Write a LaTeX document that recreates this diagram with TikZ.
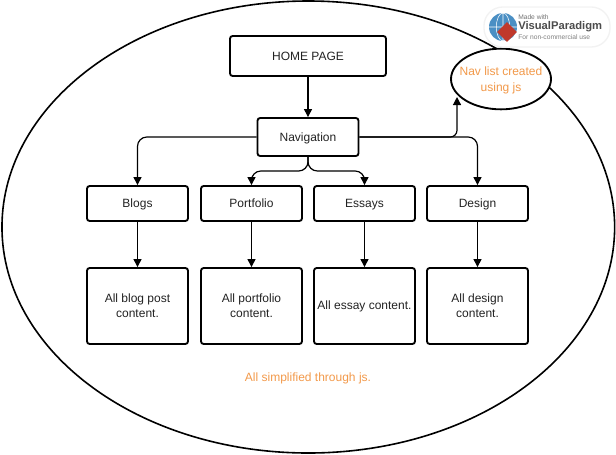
\documentclass[tikz,border=0pt]{standalone}
\usepackage{fontspec}
\setmainfont{Liberation Sans}
\usetikzlibrary{shapes.geometric,arrows.meta}
\definecolor{navorange}{HTML}{F2994A}
\definecolor{textgrey}{HTML}{222222}
\definecolor{globeblue}{HTML}{4A8FC4}
\definecolor{markred}{HTML}{C0392B}
\begin{document}
\begin{tikzpicture}
[x=0.75pt,y=-0.75pt,>={Triangle[width=6pt,length=6pt]},
 box/.style={draw,line width=1.4pt,rounded corners=2pt,minimum height=26.25pt,minimum width=75.75pt,inner sep=1pt,align=center,font=\fontsize{9}{11.25}\selectfont,text=textgrey},
 title/.style={box,text height=6.5pt,text depth=0pt},
 content/.style={box,minimum height=57pt},
 link/.style={->,line width=0.9pt,rounded corners=7pt},
 note/.style={text=navorange,align=center,font=\fontsize{9}{12}\selectfont}]
\useasboundingbox (0,0) rectangle (616,454);

% the outer ellipse
\node[draw,ellipse,line width=1.2pt,minimum width=459.5pt,minimum height=339pt,inner sep=0pt] (outer) at (308.3,227) {};

% the boxes
\node[title,minimum width=117pt,minimum height=30pt] (home) at (308,56) {HOME PAGE};
\node[title,minimum height=28.5pt] (nav) at (308,137) {Navigation};
\node[title] (blogs) at (137.5,203.5) {Blogs};
\node[title] (portfolio) at (251.5,203.5) {Portfolio};
\node[title] (essays) at (364.5,203.5) {Essays};
\node[title] (design) at (477.5,203.5) {Design};
\node[content] (blogtext) at (137.5,306) {All blog post\\content.};
\node[content] (portfoliotext) at (251.5,306) {All portfolio\\content.};
\node[content] (essaytext) at (364.5,306) {All essay content.};
\node[content] (designtext) at (477.5,306) {All design\\content.};

% the small ellipse
\node[draw,ellipse,fill=white,line width=1.4pt,minimum width=75pt,minimum height=45.5pt,inner sep=-8pt,note] (navlist) at (501,79) {\rule{0pt}{9pt}Nav list created\\using js};
\node[note] (simple) at (308,378) {All simplified through js.};

% the edges
\draw[->,line width=0.9pt] (home) -- (nav);
\draw[link] (nav.west) -- (137.5,137) -- (blogs.north);
\draw[link] (nav.south) -- (308,171) -- (251.5,171) -- (portfolio.north);
\draw[link] (nav.south) -- (308,171) -- (364.5,171) -- (essays.north);
\draw[link] (nav.east) -- (477.5,137) -- (design.north);
\draw[link,rounded corners=5pt] (nav.east) -- (457,137) -- (457,97);
\foreach \a/\b in {blogs/blogtext,portfolio/portfoliotext,essays/essaytext,design/designtext}
  \draw[->,line width=0.9pt] (\a) -- (\b);

% the badge
\node[draw=black!5,fill=white,rounded corners=14pt,line width=1pt,minimum width=94.5pt,minimum height=30pt] (badge) at (547,27) {};
\fill[globeblue] (503,27) circle (10.5pt);
\draw[white,line width=0.4pt] (503,13) -- (503,41) (489,27) -- (517,27) (503,27) ellipse (5pt and 10.5pt);
\node[diamond,fill=markred,minimum size=15pt,inner sep=0pt] (badgemark) at (507,32) {};
\node[inner sep=0pt,anchor=west,font=\fontsize{5}{6}\selectfont,text=black!55] (made) at (518,17) {Made with};
\node[inner sep=0pt,anchor=west,font=\fontsize{8.4}{10}\bfseries\selectfont,text=black!70] (vp) at (518,27) {VisualParadigm};
\node[inner sep=0pt,anchor=west,font=\fontsize{5}{6}\selectfont,text=black!50] (noncomm) at (518,37) {For non-commercial use};
\end{tikzpicture}
\end{document}
